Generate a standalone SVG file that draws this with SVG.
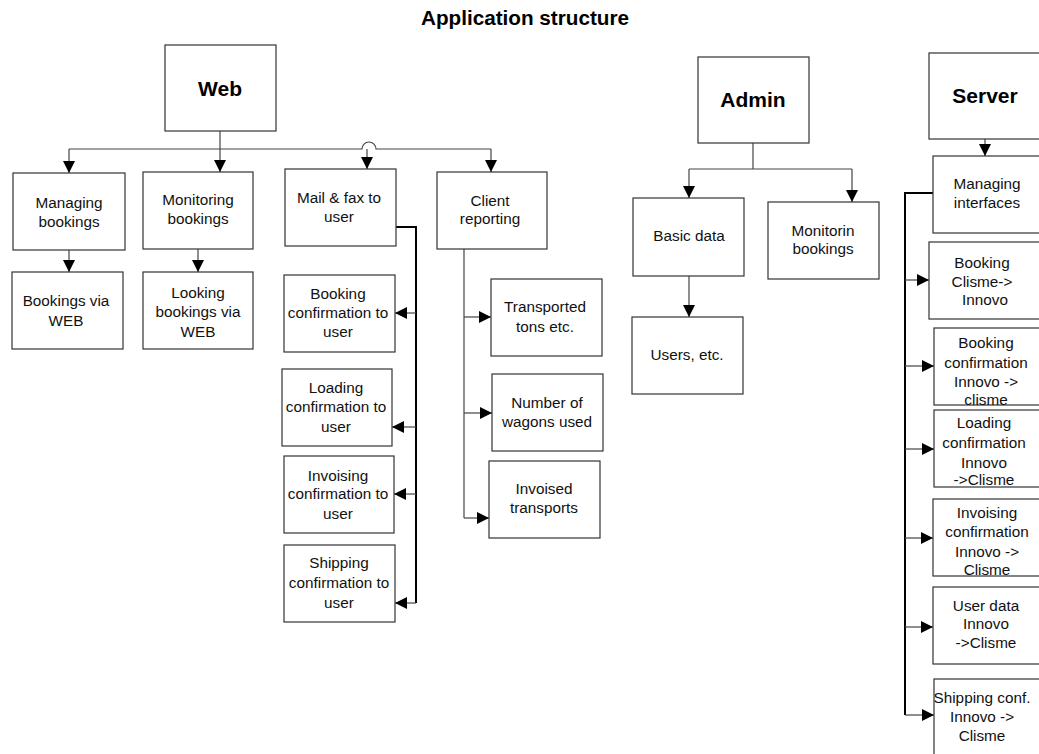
<svg xmlns="http://www.w3.org/2000/svg" width="1039" height="754" viewBox="0 0 1039 754">
  <style>
    .box { fill: #ffffff; stroke: #333333; stroke-width: 1.2; }
    .lbl { font-family: "Liberation Sans", Arial, sans-serif; font-size: 15.3px; fill: #111111; text-anchor: middle; }
    .head { font-family: "Liberation Sans", Arial, sans-serif; font-size: 21px; font-weight: bold; fill: #000000; text-anchor: middle; }
    .title { font-family: "Liberation Sans", Arial, sans-serif; font-size: 20.7px; font-weight: bold; fill: #000000; text-anchor: middle; }
    .thin { fill: none; stroke: #444444; stroke-width: 1.2; }
    .thick { fill: none; stroke: #000000; stroke-width: 2; }
    .arr { marker-end: url(#head); }
  </style>
  <defs>
    <marker id="head" markerUnits="userSpaceOnUse" markerWidth="12" markerHeight="12" refX="12" refY="6" orient="auto">
      <path d="M0,0 L12,6 L0,12 Z" fill="#000000"/>
    </marker>
  </defs>

  <rect width="1039" height="754" fill="#ffffff"/>

  <text class="title" x="525" y="25">Application structure</text>

  <!-- connectors -->
  <g id="connectors">
    <!-- Web branch bus -->
    <path class="thin" d="M220,131 V149"/>
    <path class="thin" d="M69,149 H362 A7,7 0 0 1 376,149 H491"/>
    <path class="thin arr" d="M69,149 V173"/>
    <path class="thin arr" d="M220,149 V172"/>
    <path class="thin arr" d="M367,149 V169"/>
    <path class="thin arr" d="M491,149 V172"/>
    <path class="thin arr" d="M69,250 V272"/>
    <path class="thin arr" d="M198,249 V272"/>

    <!-- Mail & fax fan-out -->
    <path class="thick" d="M396,227 H416 V603"/>
    <path class="thin arr" d="M416,313 H395"/>
    <path class="thin arr" d="M416,427 H392"/>
    <path class="thin arr" d="M416,494 H394"/>
    <path class="thin arr" d="M416,603 H395"/>

    <!-- Client reporting fan-out -->
    <path class="thin" d="M464,249 V518"/>
    <path class="thin arr" d="M464,317 H491"/>
    <path class="thin arr" d="M464,413 H492"/>
    <path class="thin arr" d="M464,518 H489"/>

    <!-- Admin branch -->
    <path class="thin" d="M753,143 V169"/>
    <path class="thin" d="M689,169 H852"/>
    <path class="thin arr" d="M689,169 V198"/>
    <path class="thin arr" d="M852,169 V202"/>
    <path class="thin arr" d="M689,276 V317"/>

    <!-- Server branch -->
    <path class="thin arr" d="M985,139 V156"/>
    <path class="thick" d="M933,193 H905 V715"/>
    <path class="thin arr" d="M905,280 H929"/>
    <path class="thin arr" d="M905,366 H934"/>
    <path class="thin arr" d="M905,449 H934"/>
    <path class="thin arr" d="M905,538 H933"/>
    <path class="thin arr" d="M905,627 H933"/>
    <path class="thin arr" d="M905,715 H934"/>
  </g>

  <!-- Web column -->
  <g id="web">
    <rect class="box" x="165" y="45" width="111" height="86"/>
    <text class="head" x="220" y="96">Web</text>
  </g>
  <g id="managing-bookings">
    <rect class="box" x="13" y="173" width="112" height="77"/>
    <text class="lbl" x="69" y="208">Managing</text>
    <text class="lbl" x="69" y="227">bookings</text>
  </g>
  <g id="monitoring-bookings">
    <rect class="box" x="143" y="172" width="110" height="77"/>
    <text class="lbl" x="198" y="205">Monitoring</text>
    <text class="lbl" x="198" y="224">bookings</text>
  </g>
  <g id="mail-fax">
    <rect class="box" x="285" y="169" width="111" height="77"/>
    <text class="lbl" x="339" y="203">Mail &amp; fax to</text>
    <text class="lbl" x="339" y="222">user</text>
  </g>
  <g id="client-reporting">
    <rect class="box" x="437" y="172" width="110" height="77"/>
    <text class="lbl" x="490" y="206">Client</text>
    <text class="lbl" x="490" y="224">reporting</text>
  </g>
  <g id="bookings-web">
    <rect class="box" x="12" y="272" width="111" height="77"/>
    <text class="lbl" x="66" y="306">Bookings via</text>
    <text class="lbl" x="66" y="326">WEB</text>
  </g>
  <g id="looking-bookings">
    <rect class="box" x="143" y="272" width="110" height="77"/>
    <text class="lbl" x="198" y="298">Looking</text>
    <text class="lbl" x="198" y="317">bookings via</text>
    <text class="lbl" x="198" y="337">WEB</text>
  </g>
  <g id="booking-conf-user">
    <rect class="box" x="284" y="275" width="111" height="77"/>
    <text class="lbl" x="338" y="299">Booking</text>
    <text class="lbl" x="338" y="318">confirmation to</text>
    <text class="lbl" x="338" y="337">user</text>
  </g>
  <g id="loading-conf-user">
    <rect class="box" x="282" y="369" width="110" height="77"/>
    <text class="lbl" x="336" y="393">Loading</text>
    <text class="lbl" x="336" y="412">confirmation to</text>
    <text class="lbl" x="336" y="432">user</text>
  </g>
  <g id="invoising-conf-user">
    <rect class="box" x="284" y="456" width="110" height="77"/>
    <text class="lbl" x="338" y="481">Invoising</text>
    <text class="lbl" x="338" y="499">confirmation to</text>
    <text class="lbl" x="338" y="519">user</text>
  </g>
  <g id="shipping-conf-user">
    <rect class="box" x="284" y="545" width="111" height="77"/>
    <text class="lbl" x="339" y="568">Shipping</text>
    <text class="lbl" x="339" y="588">confirmation to</text>
    <text class="lbl" x="339" y="608">user</text>
  </g>
  <g id="transported-tons">
    <rect class="box" x="491" y="279" width="111" height="77"/>
    <text class="lbl" x="545" y="312">Transported</text>
    <text class="lbl" x="545" y="332">tons etc.</text>
  </g>
  <g id="number-wagons">
    <rect class="box" x="492" y="374" width="111" height="77"/>
    <text class="lbl" x="547" y="408">Number of</text>
    <text class="lbl" x="547" y="427">wagons used</text>
  </g>
  <g id="invoised-transports">
    <rect class="box" x="489" y="461" width="111" height="77"/>
    <text class="lbl" x="544" y="494">Invoised</text>
    <text class="lbl" x="544" y="513">transports</text>
  </g>

  <!-- Admin column -->
  <g id="admin">
    <rect class="box" x="698" y="57" width="111" height="86"/>
    <text class="head" x="753" y="107">Admin</text>
  </g>
  <g id="basic-data">
    <rect class="box" x="633" y="198" width="111" height="78"/>
    <text class="lbl" x="689" y="241">Basic data</text>
  </g>
  <g id="monitorin-bookings">
    <rect class="box" x="768" y="202" width="111" height="77"/>
    <text class="lbl" x="823" y="236">Monitorin</text>
    <text class="lbl" x="823" y="254">bookings</text>
  </g>
  <g id="users">
    <rect class="box" x="632" y="317" width="111" height="77"/>
    <text class="lbl" x="687" y="360">Users, etc.</text>
  </g>

  <!-- Server column -->
  <g id="server">
    <rect class="box" x="929" y="53" width="111" height="86"/>
    <text class="head" x="985" y="103">Server</text>
  </g>
  <g id="managing-interfaces">
    <rect class="box" x="933" y="156" width="111" height="77"/>
    <text class="lbl" x="987" y="189">Managing</text>
    <text class="lbl" x="987" y="208">interfaces</text>
  </g>
  <g id="booking-clisme-innovo">
    <rect class="box" x="929" y="242" width="111" height="77"/>
    <text class="lbl" x="982" y="268">Booking</text>
    <text class="lbl" x="982" y="287">Clisme-&gt;</text>
    <text class="lbl" x="985" y="305">Innovo</text>
  </g>
  <g id="booking-conf-innovo">
    <rect class="box" x="934" y="328" width="111" height="77"/>
    <text class="lbl" x="986" y="348">Booking</text>
    <text class="lbl" x="986" y="368">confirmation</text>
    <text class="lbl" x="986" y="387">Innovo -&gt;</text>
    <text class="lbl" x="986" y="405">clisme</text>
  </g>
  <g id="loading-conf-innovo">
    <rect class="box" x="934" y="410" width="111" height="77"/>
    <text class="lbl" x="984" y="428">Loading</text>
    <text class="lbl" x="984" y="448">confirmation</text>
    <text class="lbl" x="984" y="468">Innovo</text>
    <text class="lbl" x="984" y="485">-&gt;Clisme</text>
  </g>
  <g id="invoising-conf-innovo">
    <rect class="box" x="933" y="499" width="111" height="77"/>
    <text class="lbl" x="987" y="518">Invoising</text>
    <text class="lbl" x="987" y="537">confirmation</text>
    <text class="lbl" x="987" y="557">Innovo -&gt;</text>
    <text class="lbl" x="987" y="575">Clisme</text>
  </g>
  <g id="user-data">
    <rect class="box" x="933" y="587" width="111" height="77"/>
    <text class="lbl" x="986" y="611">User data</text>
    <text class="lbl" x="986" y="629">Innovo</text>
    <text class="lbl" x="986" y="648">-&gt;Clisme</text>
  </g>
  <g id="shipping-conf-innovo">
    <rect class="box" x="934" y="679" width="111" height="90"/>
    <text class="lbl" x="982" y="703">Shipping conf.</text>
    <text class="lbl" x="982" y="722">Innovo -&gt;</text>
    <text class="lbl" x="982" y="741">Clisme</text>
  </g>
</svg>
